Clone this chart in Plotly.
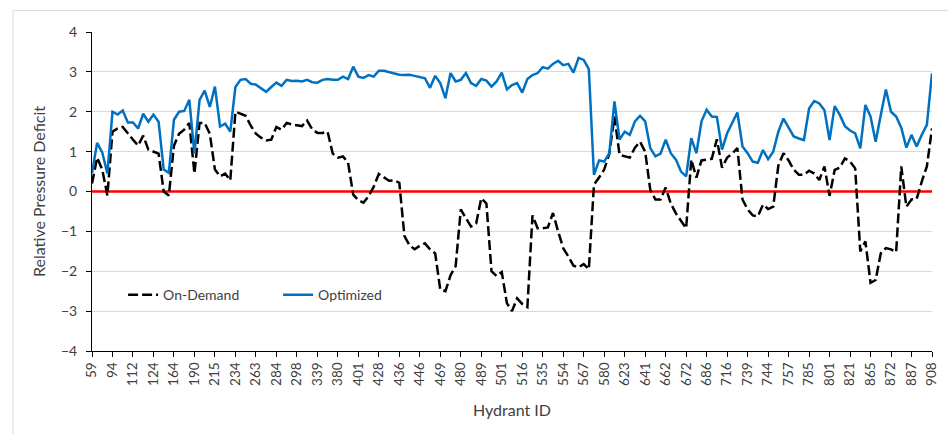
import plotly.graph_objects as go

# Tick labels (every 4th hydrant is labelled on the axis)
hydrant_labels = ["59", "94", "112", "124", "164", "190", "215", "234", "263", "284",
                  "298", "339", "380", "401", "428", "436", "446", "469", "480", "489",
                  "501", "516", "535", "554", "567", "580", "623", "641", "662", "672",
                  "686", "716", "739", "744", "757", "785", "801", "821", "865", "872",
                  "887", "908"]
points_per_label = 4

on_demand = [
    0.2, 0.85, 0.55, -0.1, 1.5, 1.58, 1.62, 1.45, 1.3, 1.15,
    1.4, 1.05, 1.0, 0.95, 0.0, -0.1, 1.15, 1.45, 1.55, 1.72,
    0.45, 1.72, 1.72, 1.45, 0.55, 0.38, 0.45, 0.28, 2.0, 1.95,
    1.9, 1.65, 1.45, 1.35, 1.28, 1.3, 1.62, 1.55, 1.72, 1.68,
    1.66, 1.64, 1.78, 1.56, 1.47, 1.47, 1.5, 0.95, 0.85, 0.88,
    0.72, -0.08, -0.22, -0.28, -0.12, 0.12, 0.44, 0.35, 0.27, 0.28,
    0.22, -1.12, -1.35, -1.45, -1.36, -1.3, -1.45, -1.55, -2.46, -2.5,
    -2.1, -1.87, -0.45, -0.67, -0.88, -0.8, -0.17, -0.3, -2.0, -2.12,
    -2.02, -2.8, -3.0, -2.68, -2.82, -2.9, -0.6, -0.92, -0.92, -0.9,
    -0.54, -1.0, -1.42, -1.63, -1.86, -1.9, -1.82, -1.95, 0.17, 0.35,
    0.55, 0.95, 1.88, 0.92, 0.88, 0.85, 1.1, 1.25, 1.0, 0.04,
    -0.2, -0.2, 0.1, -0.3, -0.55, -0.75, -0.92, 0.8, 0.35, 0.78,
    0.8, 0.82, 1.31, 0.6, 0.85, 0.95, 1.09, -0.2, -0.45, -0.6,
    -0.62, -0.33, -0.44, -0.38, 0.65, 0.96, 0.78, 0.55, 0.42, 0.42,
    0.52, 0.45, 0.29, 0.63, -0.11, 0.54, 0.6, 0.83, 0.75, 0.58,
    -1.5, -1.25, -2.29, -2.22, -1.55, -1.42, -1.45, -1.52, 0.63, -0.38,
    -0.2, -0.19, 0.25, 0.63, 1.58]

optimized = [
    0.46, 1.22, 0.98, 0.45, 2.0, 1.93, 2.03, 1.73, 1.73, 1.58,
    1.95, 1.75, 1.93, 1.75, 0.55, 0.47, 1.8, 2.0, 2.02, 2.3,
    0.95, 2.3, 2.53, 2.12, 2.63, 1.63, 1.7, 1.5, 2.62, 2.8,
    2.82, 2.7, 2.68, 2.58, 2.5, 2.62, 2.73, 2.65, 2.8, 2.77,
    2.78, 2.76, 2.8, 2.74, 2.73, 2.8, 2.82, 2.8, 2.8, 2.88,
    2.82, 3.13, 2.88, 2.85, 2.92, 2.88, 3.03, 3.03, 3.0, 2.96,
    2.93, 2.92, 2.93, 2.9, 2.87, 2.84, 2.6, 2.9, 2.72, 2.34,
    2.97, 2.76, 2.8, 2.97, 2.72, 2.65, 2.82, 2.78, 2.63, 2.76,
    2.98, 2.56, 2.67, 2.72, 2.48, 2.82, 2.92, 2.97, 3.12, 3.08,
    3.2, 3.28, 3.17, 3.2, 2.98, 3.35, 3.3, 3.07, 0.42, 0.78,
    0.75, 0.96, 2.26, 1.3, 1.5, 1.42, 1.76, 1.9, 1.76, 1.09,
    0.88, 0.95, 1.3, 0.96, 0.8, 0.5, 0.38, 1.34, 0.96, 1.76,
    2.05, 1.88, 1.87, 1.05, 1.46, 1.72, 1.98, 1.13, 0.96, 0.75,
    0.72, 1.04, 0.81, 1.0, 1.5, 1.83, 1.6, 1.38, 1.33, 1.29,
    2.08, 2.27, 2.21, 2.04, 1.29, 2.14, 1.92, 1.64, 1.53, 1.46,
    1.08, 2.17, 1.88, 1.25, 1.92, 2.56, 2.0, 1.88, 1.6, 1.1,
    1.42, 1.13, 1.42, 1.67, 2.96]

threshold = 0.0

n = len(optimized)
x_idx = list(range(n))
tick_pos = [i * points_per_label for i in range(len(hydrant_labels))]

FONT = "Lato"
TXT = "#404040"

fig = go.Figure()
fig.add_trace(go.Scatter(x=[0, n - 1], y=[threshold, threshold], mode="lines",
                         line=dict(color="#ff0000", width=2.5), showlegend=False,
                         hoverinfo="skip"))
fig.add_trace(go.Scatter(x=x_idx, y=on_demand, mode="lines", name="On-Demand",
                         line=dict(color="#000000", width=2.5, dash="10px,4px")))
fig.add_trace(go.Scatter(x=x_idx, y=optimized, mode="lines", name="Optimized",
                         line=dict(color="#0070c0", width=2.5)))

fig.update_layout(
    width=948, height=434,
    margin=dict(l=92, r=16, t=32, b=83),
    paper_bgcolor="white", plot_bgcolor="white",
    font=dict(family=FONT, size=14, color=TXT),
    legend=dict(orientation="h", x=0.037, y=0.175, xanchor="left", yanchor="middle",
                bgcolor="rgba(0,0,0,0)", entrywidth=110, entrywidthmode="pixels",
                font=dict(size=14, color=TXT)),
    showlegend=True,
    shapes=[dict(type="rect", xref="paper", yref="paper",
                 x0=-0.094, x1=1.05, y0=-0.4, y1=1.067,
                 line=dict(color="#d9d9d9", width=1), layer="below")],
)

fig.update_xaxes(
    range=[0, n - 1], tickmode="array", tickvals=tick_pos, ticktext=hydrant_labels,
    tickangle=-90, tickfont=dict(size=13.5, color=TXT), showgrid=False, zeroline=False,
    showline=True, linecolor="#000000", linewidth=1, ticks="outside", ticklen=5,
    tickcolor="#000000", automargin=False,
    title=dict(text="Hydrant ID", font=dict(size=16, color=TXT), standoff=19),
)
fig.update_yaxes(
    range=[-4, 4], dtick=1, tickfont=dict(size=14, color=TXT), showgrid=True,
    gridcolor="#d9d9d9", gridwidth=1, zeroline=False, showline=True,
    linecolor="#000000", linewidth=1, ticks="outside", ticklen=5, tickcolor="#000000",
    automargin=False, ticklabelstandoff=6,
    title=dict(text="Relative Pressure Deficit", font=dict(size=16, color=TXT), standoff=11),
)

fig.write_html("out.html", config={"displayModeBar": False},
               post_script="document.body.style.margin='0';")
